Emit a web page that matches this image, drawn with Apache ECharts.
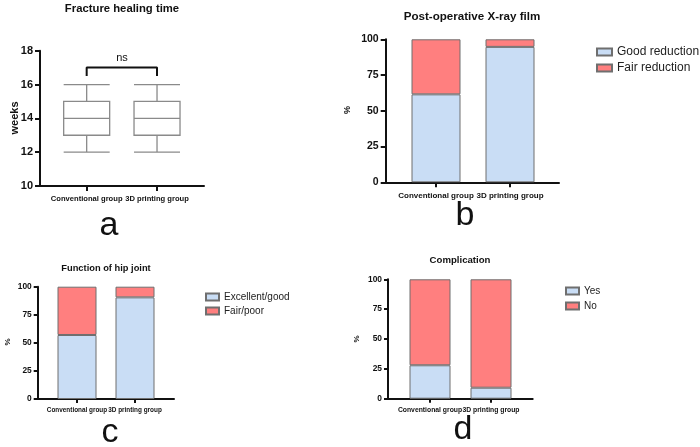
<!DOCTYPE html>
<html>
<head>
<meta charset="utf-8">
<script src="https://cdn.jsdelivr.net/npm/echarts@6/dist/echarts.min.js"></script>
<style>
  html, body { margin: 0; padding: 0; background: #fff; }
  #chart { width: 700px; height: 447px; }
</style>
</head>
<body>
<div id="chart"></div>
<script>
// data
const categories = ['Conventional group', '3D printing group'];
const healingBox = [[12, 13, 14, 15, 16], [12, 13, 14, 15, 16]]; // min, Q1, median, Q3, max (weeks)
const bracketY = [16.5, 17];
const xrayGood = [61.5, 94.7];
const xrayFair = [38.5, 5.3];
const hipGood = [57, 90.5];
const hipFair = [43, 9.5];
const compYes = [28, 9.2];
const compNo = [72, 90.8];
const weeksRange = [10, 18, 2];
const pctRange = [0, 100, 25];

const FONT = '"Liberation Sans", Arial, sans-serif';
const BLUE = '#c9ddf5';
const RED = '#ff7f7f';
const EDGE = '#6f6f6f';

// layout of each panel: outer = axis lines frame, inner = category band area
const panels = [
  { outer: [40, 50.7, 164, 135.3], inner: [51.5, 140.7], range: weeksRange, tickFont: 11, catFont: 7.6, tickLen: 5, labGap: 7, catGap: 9 },
  { outer: [385.7, 39.3, 173.3, 143], inner: [399, 148], range: pctRange, tickFont: 10.5, catFont: 8, tickLen: 5, labGap: 7, catGap: 9 },
  { outer: [37.7, 286.7, 136.3, 112.3], inner: [48, 116], range: pctRange, tickFont: 8.4, catFont: 6.4, tickLen: 4, labGap: 6, catGap: 8 },
  { outer: [388, 279.3, 144.7, 119.4], inner: [399.5, 122], range: pctRange, tickFont: 8.4, catFont: 6.8, tickLen: 4, labGap: 6, catGap: 8 }
];

const grid = [], xAxis = [], yAxis = [];
panels.forEach(function (p) {
  const o = p.outer;
  grid.push({ left: o[0], top: o[1], width: o[2], height: o[3] });
  grid.push({ left: p.inner[0], top: o[1], width: p.inner[1], height: o[3] });
  const gi = grid.length - 2;
  xAxis.push({
    gridIndex: gi, type: 'value', min: 0, max: 1,
    axisLine: { show: true, lineStyle: { color: '#111', width: 2 } },
    axisTick: { show: false }, axisLabel: { show: false }, splitLine: { show: false }
  });
  xAxis.push({
    gridIndex: gi + 1, type: 'category', data: categories,
    axisLine: { show: false },
    axisTick: { show: true, alignWithLabel: true, length: p.tickLen, lineStyle: { color: '#111', width: 2 } },
    axisLabel: { color: '#111', fontFamily: FONT, fontWeight: 'bold', fontSize: p.catFont, margin: p.catGap, interval: 0 },
    splitLine: { show: false }
  });
  yAxis.push({
    gridIndex: gi, type: 'value', min: p.range[0], max: p.range[1], interval: p.range[2],
    axisLine: { show: true, lineStyle: { color: '#111', width: 2 } },
    axisTick: { show: true, length: p.tickLen, lineStyle: { color: '#111', width: 2 } },
    axisLabel: { color: '#111', fontFamily: FONT, fontWeight: 'bold', fontSize: p.tickFont, margin: p.labGap },
    splitLine: { show: false }
  });
  yAxis.push({
    gridIndex: gi + 1, type: 'value', min: p.range[0], max: p.range[1], interval: p.range[2], show: false
  });
});

function stackBar(name, data, color, idx, barWidth) {
  return {
    name: name, type: 'bar', stack: 's' + idx, data: data,
    xAxisIndex: idx, yAxisIndex: idx, barWidth: barWidth,
    itemStyle: { color: color, borderColor: EDGE, borderWidth: 1 },
    emphasis: { disabled: true }
  };
}

const series = [
  {
    name: 'Fracture healing time', type: 'boxplot', xAxisIndex: 1, yAxisIndex: 1,
    data: healingBox, boxWidth: [46, 46],
    itemStyle: { color: '#fff', borderColor: '#8a8a8a', borderWidth: 1.3 }
  },
  {
    type: 'line', xAxisIndex: 1, yAxisIndex: 1, symbol: 'none', silent: true,
    data: [[0, bracketY[0]], [0, bracketY[1]], [1, bracketY[1]], [1, bracketY[0]]],
    lineStyle: { color: '#111', width: 2 }
  },
  stackBar('Good reduction', xrayGood, BLUE, 3, 49),
  stackBar('Fair reduction', xrayFair, RED, 3, 49),
  stackBar('Excellent/good', hipGood, BLUE, 5, 39),
  stackBar('Fair/poor', hipFair, RED, 5, 39),
  stackBar('Yes', compYes, BLUE, 7, 41),
  stackBar('No', compNo, RED, 7, 41)
];

function legendAt(names, left, top, size, gap, w, h) {
  return {
    data: names, orient: 'vertical', left: left, top: top,
    icon: 'rect', itemWidth: w, itemHeight: h, itemGap: gap, selectedMode: false,
    textStyle: { fontFamily: FONT, fontSize: size, color: '#222' }
  };
}

function txt(s, x, y, size, bold, rot) {
  return {
    type: 'text', x: x, y: y, rotation: rot || 0, silent: true,
    style: {
      text: s, fill: '#111', align: 'center', verticalAlign: 'middle',
      font: (bold ? 'bold ' : '') + size + 'px ' + FONT
    }
  };
}

const chart = echarts.init(document.getElementById('chart'));
chart.setOption({
  animation: false,
  grid: grid,
  xAxis: xAxis,
  yAxis: yAxis,
  series: series,
  legend: [
    legendAt(['Good reduction', 'Fair reduction'], 591, 41, 12, 4, 15, 7),
    legendAt(['Excellent/good', 'Fair/poor'], 200, 287, 10, 4, 13, 7),
    legendAt(['Yes', 'No'], 560, 281, 10, 5, 13, 7)
  ],
  graphic: [
    txt('Fracture healing time', 122, 9, 11.3, true),
    txt('ns', 122, 58, 11, false),
    txt('weeks', 15, 118, 11, true, Math.PI / 2),
    txt('a', 109, 226, 34, false),
    txt('Post-operative X-ray film', 472, 17, 11.6, true),
    txt('%', 348, 110, 9, true, Math.PI / 2),
    txt('b', 465, 216, 34, false),
    txt('Function of hip joint', 106, 268, 9.3, true),
    txt('%', 8, 342, 8, true, Math.PI / 2),
    txt('c', 110, 433, 34, false),
    txt('Complication', 460, 260, 9.6, true),
    txt('%', 357, 339, 8, true, Math.PI / 2),
    txt('d', 463, 430, 34, false)
  ]
});
</script>
</body>
</html>
